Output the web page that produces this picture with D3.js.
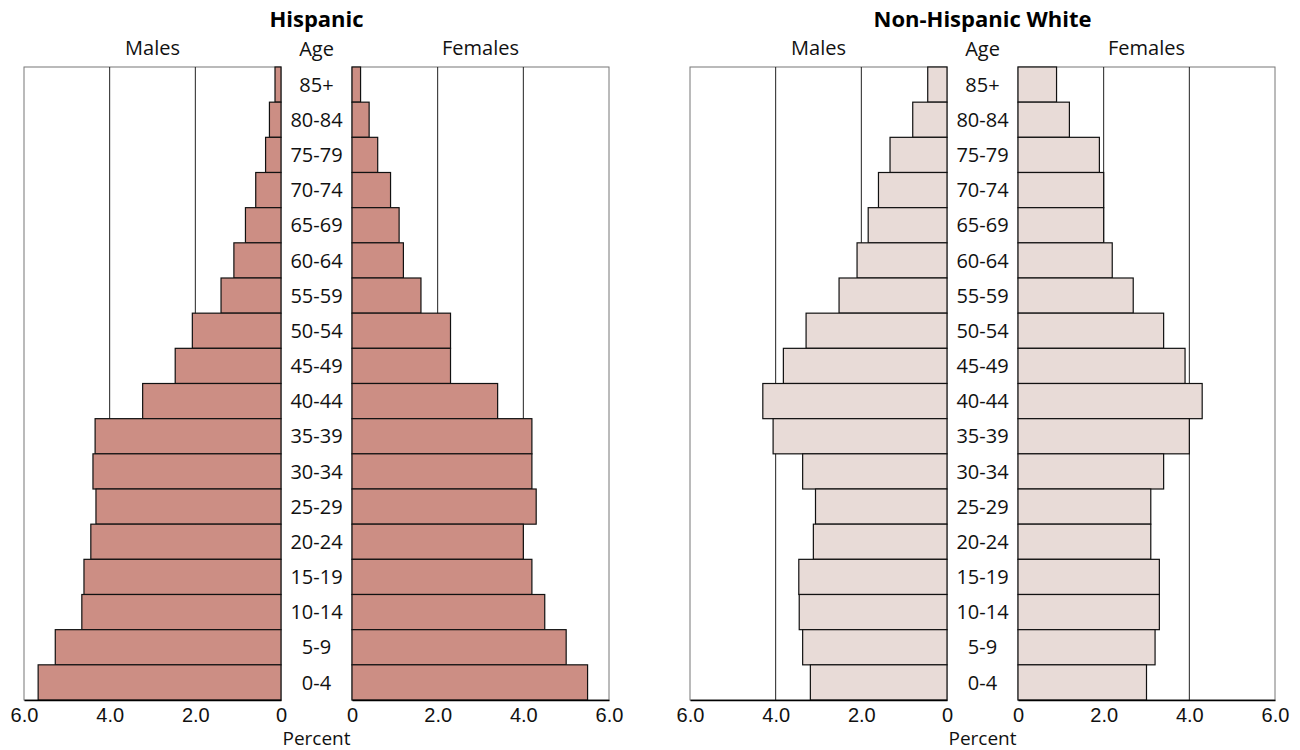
<!DOCTYPE html>
<html><head><meta charset="utf-8">
<script src="https://cdn.jsdelivr.net/npm/d3@7"></script>
<style>
html,body{margin:0;padding:0;background:#fff;}
svg{display:block;font-family:"Open Sans","Noto Sans",sans-serif;}
</style></head>
<body>
<svg id="chart" width="1300" height="750"></svg>
<script>
const ages = ["85+","80-84","75-79","70-74","65-69","60-64","55-59","50-54","45-49","40-44","35-39","30-34","25-29","20-24","15-19","10-14","5-9","0-4"];
const hispMales   = [0.14,0.27,0.36,0.59,0.83,1.10,1.40,2.07,2.47,3.23,4.34,4.39,4.32,4.44,4.60,4.65,5.27,5.67];
const hispFemales = [0.20,0.40,0.60,0.90,1.10,1.20,1.61,2.30,2.30,3.40,4.20,4.20,4.30,4.00,4.20,4.50,5.00,5.50];
const nhwMales    = [0.45,0.80,1.33,1.60,1.84,2.10,2.52,3.29,3.82,4.30,4.06,3.37,3.07,3.12,3.46,3.45,3.37,3.19];
const nhwFemales  = [0.90,1.20,1.90,2.00,2.00,2.20,2.69,3.40,3.90,4.30,4.00,3.40,3.10,3.10,3.30,3.30,3.20,3.00];
const tickValues = [0,2,4,6];
const titles = ["Hispanic","Non-Hispanic White"];

(function(){
const svg = d3.select("#chart");
const y0 = 67, y1 = 700;
const y = d3.scaleBand().domain(ages).range([y0,y1]).padding(0);

const panels = [
  {title:titles[0], males:hispMales, females:hispFemales, fill:"#cc8e84", mL:24, mR:281, fL:352, fR:609},
  {title:titles[1], males:nhwMales, females:nhwFemales, fill:"#e8dbd7", mL:690, mR:947, fL:1018, fR:1275}
];

const fmt = d => d===0 ? "0" : d.toFixed(1);
const fs = 20;

panels.forEach(p => {
  const g = svg.append("g");
  const xm = d3.scaleLinear().domain([0,6]).range([p.mR,p.mL]);
  const xf = d3.scaleLinear().domain([0,6]).range([p.fL,p.fR]);
  const center = (p.mR + p.fL)/2;

  [[xm,p.males],[xf,p.females]].forEach(([x,vals]) => {
    const pg = g.append("g");
    pg.append("rect").attr("x",Math.min(x(0),x(6))).attr("y",y0)
      .attr("width",Math.abs(x(6)-x(0))).attr("height",y1-y0)
      .attr("fill","#fff").attr("stroke","#777").attr("stroke-width",1);
    pg.selectAll("line.grid").data([2,4]).join("line").attr("class","grid")
      .attr("x1",d=>x(d)).attr("x2",d=>x(d)).attr("y1",y0).attr("y2",y1)
      .attr("stroke","#222").attr("stroke-width",1);
    pg.selectAll("rect.bar").data(vals).join("rect").attr("class","bar")
      .attr("x",d=>Math.min(x(0),x(d))).attr("width",d=>Math.abs(x(d)-x(0)))
      .attr("y",(d,i)=>y(ages[i])).attr("height",y.bandwidth())
      .attr("fill",p.fill).attr("stroke","#111").attr("stroke-width",1.2);
    const ax = pg.append("g").attr("transform",`translate(0,${y1})`)
      .call(d3.axisBottom(x).tickValues(tickValues).tickFormat(fmt).tickSize(0).tickPadding(8));
    ax.select(".domain").attr("stroke","#000").attr("stroke-width",1.5);
    ax.selectAll("text").attr("font-size",fs).attr("fill","#111").attr("font-family",null);
  });

  g.selectAll("text.age").data(ages).join("text").attr("class","age")
    .attr("x",center).attr("y",d=>y(d)+y.bandwidth()/2).attr("dy","0.36em")
    .attr("text-anchor","middle").attr("font-size",fs).attr("fill","#111").text(d=>d);

  g.append("text").attr("x",center).attr("y",27).attr("text-anchor","middle")
    .attr("font-size",22).attr("font-weight","bold").attr("fill","#000").text(p.title);
  g.append("text").attr("x",center).attr("y",56).attr("text-anchor","middle")
    .attr("font-size",fs).attr("fill","#111").text("Age");
  g.append("text").attr("x",(p.mL+p.mR)/2).attr("y",55).attr("text-anchor","middle")
    .attr("font-size",fs).attr("fill","#111").text("Males");
  g.append("text").attr("x",(p.fL+p.fR)/2).attr("y",55).attr("text-anchor","middle")
    .attr("font-size",fs).attr("fill","#111").text("Females");
  g.append("text").attr("x",center).attr("y",745).attr("text-anchor","middle")
    .attr("font-size",19).attr("fill","#111").text("Percent");
});
})();
</script>
</body></html>
